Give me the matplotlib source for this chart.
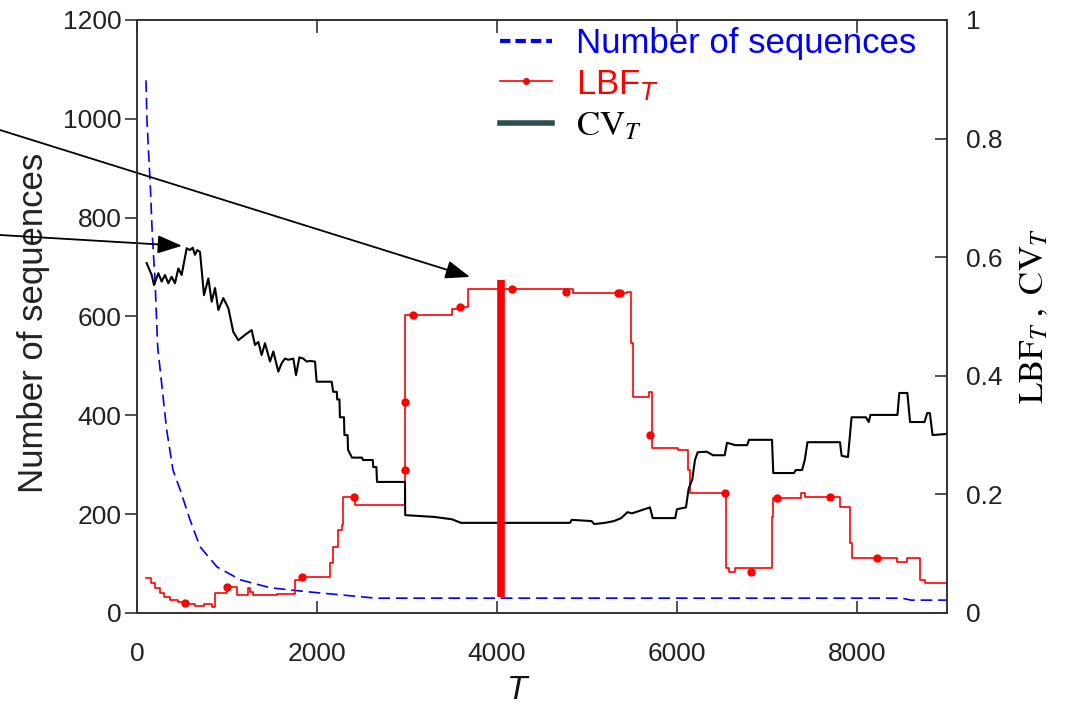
import matplotlib
matplotlib.use("Agg")
import matplotlib.pyplot as plt
from matplotlib.lines import Line2D

plt.rcParams['font.family'] = ['Liberation Sans', 'DejaVu Sans']

# Number of surviving sequences (left axis)
seq_T = [100, 110, 150, 170, 200, 230, 290, 330, 400, 480, 590, 700, 890,
         1150, 1480, 1890, 2300, 2650, 4000, 6000, 8500, 8600, 9000]
seq_N = [1078, 1000, 856, 765, 674, 538, 437, 370, 289, 249, 188, 134, 93,
         67, 51, 43, 36, 30, 30, 30, 30, 26, 26]

# LBF_T (right axis), piecewise constant from each T onwards
lbf_T = [100, 150, 200, 250, 300, 367, 450, 550, 650, 750, 833, 867, 1000,
         1111, 1233, 1260, 1290, 1556, 1756, 1833, 2011, 2144, 2178, 2233,
         2278, 2289, 2420, 2980, 3500, 3600, 3678, 4850, 5440, 5490, 5511,
         5690, 5720, 6011, 6122, 6144, 6540, 6580, 6640, 7056, 7067, 7380,
         7420, 7811, 7922, 7950, 8444, 8560, 8700, 8760, 9000]
lbf_v = [0.059, 0.050, 0.042, 0.033, 0.027, 0.022, 0.018, 0.015, 0.012,
         0.015, 0.010, 0.034, 0.044, 0.030, 0.042, 0.035, 0.030, 0.032,
         0.056, 0.061, 0.060, 0.084, 0.111, 0.140, 0.148, 0.196, 0.182,
         0.503, 0.512, 0.516, 0.546, 0.540, 0.541, 0.455, 0.364, 0.373,
         0.278, 0.275, 0.241, 0.202, 0.076, 0.069, 0.076, 0.162, 0.194,
         0.203, 0.196, 0.178, 0.118, 0.093, 0.086, 0.093, 0.056, 0.051,
         0.051]

# LBF_T marker samples
lbf_mark_T = [533, 1000, 1833, 2411, 2980, 2980, 3067, 3589, 4167, 4767,
              5344, 5370, 5700, 6533, 6822, 7111, 7700, 8222]
lbf_mark_v = [0.017, 0.044, 0.061, 0.196, 0.241, 0.356, 0.503, 0.516, 0.546,
              0.541, 0.540, 0.540, 0.300, 0.202, 0.069, 0.194, 0.196, 0.093]

# CV_T (right axis)
cv_T = [107, 163, 189, 237, 274, 311, 348, 385, 422, 459, 496, 552, 589, 619,
        644, 670, 700, 744, 793, 830, 867, 904, 959, 1015, 1070, 1126, 1200,
        1274, 1311, 1348, 1385, 1422, 1478, 1515, 1570, 1607, 1644, 1681,
        1737, 1767, 1804, 1848, 1885, 1922, 1978, 1996, 2163, 2180, 2220,
        2225, 2250, 2255, 2300, 2305, 2340, 2345, 2389, 2500, 2511, 2620,
        2625, 2660, 2667, 2978, 2980, 3300, 3500, 3600, 4811, 4830, 5050,
        5080, 5200, 5300, 5380, 5450, 5500, 5600, 5700, 5730, 5980, 6000,
        6100, 6130, 6170, 6200, 6230, 6330, 6400, 6530, 6556, 6650, 6780,
        6800, 7056, 7070, 7300, 7320, 7390, 7420, 7450, 7811, 7830, 7900,
        7940, 8100, 8130, 8150, 8450, 8470, 8560, 8590, 8750, 8780, 8810,
        8840, 9000]
cv_v = [0.590, 0.570, 0.553, 0.573, 0.559, 0.570, 0.556, 0.567, 0.556, 0.581,
        0.570, 0.615, 0.612, 0.616, 0.604, 0.612, 0.609, 0.536, 0.564, 0.525,
        0.548, 0.511, 0.531, 0.514, 0.474, 0.460, 0.469, 0.477, 0.452, 0.457,
        0.435, 0.455, 0.424, 0.441, 0.407, 0.421, 0.429, 0.427, 0.429, 0.401,
        0.431, 0.429, 0.424, 0.425, 0.424, 0.390, 0.390, 0.373, 0.373, 0.360,
        0.360, 0.330, 0.330, 0.300, 0.300, 0.275, 0.262, 0.262, 0.258, 0.258,
        0.246, 0.246, 0.221, 0.221, 0.165, 0.162, 0.158, 0.152, 0.152, 0.157,
        0.155, 0.150, 0.152, 0.155, 0.160, 0.170, 0.168, 0.173, 0.178, 0.160,
        0.160, 0.175, 0.178, 0.210, 0.225, 0.258, 0.271, 0.272, 0.266, 0.266,
        0.287, 0.283, 0.283, 0.292, 0.292, 0.236, 0.236, 0.241, 0.241, 0.258,
        0.288, 0.288, 0.265, 0.263, 0.330, 0.330, 0.322, 0.334, 0.334, 0.371,
        0.371, 0.322, 0.322, 0.337, 0.337, 0.300, 0.302]

# Selected window
peak_T = 4050
peak_lo, peak_hi = 0.027, 0.562

x_ticks = [0, 2000, 4000, 6000, 8000]
left_ticks = [0, 200, 400, 600, 800, 1000, 1200]
right_ticks = [0, 0.2, 0.4, 0.6, 0.8, 1]
right_labels = ['0', '0.2', '0.4', '0.6', '0.8', '1']

fig = plt.figure(figsize=(10.67, 7.04), dpi=100)
ax = fig.add_axes([0.1284, 0.1293, 0.7591, 0.8423])
ax2 = ax.twinx()

ax.plot(seq_T, seq_N, color='#0000ff', lw=1.2, dashes=(7, 3.5))
ax2.step(lbf_T, lbf_v, where='post', color='#ff0000', lw=1.2)
ax2.plot(lbf_mark_T, lbf_mark_v, 'o', color='#ff0000', ms=6, mec='none')
ax2.plot(cv_T, cv_v, color='black', lw=1.5)
ax2.vlines(peak_T, peak_lo, peak_hi, color='#ff0000', lw=5.5)

ax.set_xlim(0, 9000)
ax.set_ylim(0, 1200)
ax2.set_ylim(0, 1)

spine_c = '#333333'
for a in (ax, ax2):
    for s in a.spines.values():
        s.set_color(spine_c)
        s.set_linewidth(1.2)

ax.set_xticks(x_ticks)
ax.set_yticks(left_ticks)
ax2.set_yticks(right_ticks)
ax2.set_yticklabels(right_labels)

ax.tick_params(axis='x', direction='in', length=9, width=1.2, top=True,
               pad=21, labelsize=19, colors=spine_c, labelcolor='#222222')
ax.tick_params(axis='y', direction='out', length=9, width=1.2, pad=2,
               labelsize=19, colors=spine_c, labelcolor='#222222')
ax2.tick_params(axis='y', direction='in', length=9, width=1.2, pad=14,
                labelsize=19, colors=spine_c, labelcolor='#222222')

ax.set_ylabel('Number of sequences', fontsize=25, color='#222222')
ax.yaxis.set_label_coords(-0.108, 0.49)
ax.set_xlabel('T', fontsize=24, style='italic', color='#111111')
ax.xaxis.set_label_coords(0.469, -0.104)
rl = ax2.set_ylabel(r'$\mathrm{LBF}_T\ ,\ \mathrm{CV}_T$', fontsize=25,
                    labelpad=10)
rl.set_math_fontfamily('stix')

# Legend
handles = [
    Line2D([], [], color='#0000ff', lw=3, dashes=(2.5, 1.2)),
    Line2D([], [], color='#ff0000', lw=1.2, marker='o', ms=5, mec='none'),
    Line2D([], [], color='#2f4f4f', lw=4),
]
labels = ['Number of sequences', 'LBF$_T$', r'$\mathrm{CV}_T$']
leg = fig.legend(handles, labels, loc='upper left',
                 bbox_to_anchor=(500 / 1067, 1 - 27 / 704),
                 frameon=False, fontsize=25, handlelength=1.5,
                 handletextpad=0.7, labelspacing=0.22, borderpad=0,
                 borderaxespad=0)
texts = leg.get_texts()
texts[0].set_color('#0000ff')
texts[1].set_color('#ff0000')
texts[2].set_color('black')
texts[2].set_math_fontfamily('stix')

# Pointers from the left margin
arrow_style = dict(arrowstyle='-|>,head_length=0.75,head_width=0.28',
                   mutation_scale=20, lw=1.3, color='black',
                   shrinkA=0, shrinkB=0)
ax.annotate('', xy=(3700, 680), xycoords='data', xytext=(0, 574),
            textcoords='figure pixels', arrowprops=arrow_style,
            annotation_clip=False)
ax.annotate('', xy=(500, 743), xycoords='data', xytext=(0, 469),
            textcoords='figure pixels', arrowprops=arrow_style,
            annotation_clip=False)

fig.savefig('out.png', dpi=100)
